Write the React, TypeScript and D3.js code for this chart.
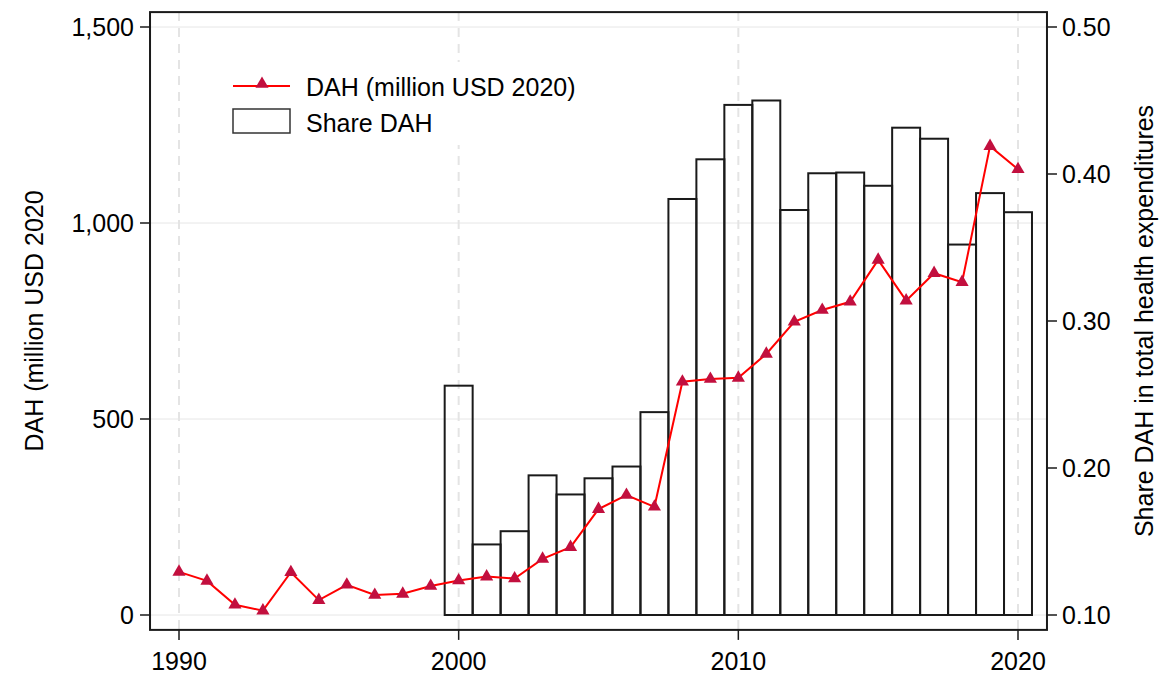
import React from 'react';
import * as d3 from 'd3';

const years = d3.range(1990, 2021);
// DAH (million USD 2020), 1990-2020
const dah = [110, 87, 26, 11, 109, 38, 77, 51, 54, 74, 88, 98, 93, 143, 173, 270, 306, 276, 595, 602, 605, 666, 748, 778, 799, 906, 802, 872, 849, 1196, 1137];
// Share DAH in total health expenditures, 2000-2020
const shareYears = d3.range(2000, 2021);
const share = [0.256, 0.148, 0.157, 0.195, 0.182, 0.193, 0.201, 0.238, 0.383, 0.41, 0.447, 0.45, 0.3755, 0.4005, 0.401, 0.392, 0.4315, 0.424, 0.352, 0.387, 0.374];
const leftTicks = [0, 500, 1000, 1500];
const rightTicks = [0.1, 0.2, 0.3, 0.4, 0.5];
const xTicks = [1990, 2000, 2010, 2020];

const width = 1160;
const height = 676;
const font = '"Liberation Sans", Arial, sans-serif';

const App: React.FC = () => {
  const x = d3.scaleLinear().domain([1990, 2020]).range([179, 1018]);
  const yL = d3.scaleLinear().domain([0, 1500]).range([615, 27]);
  const yR = d3.scaleLinear().domain([0.1, 0.5]).range([615, 27]);

  // plot frame, a little wider than the data range
  const left = x(1990 - 1.036);
  const right = x(2020 + 1.036);
  const top = yL(1538);
  const bottom = yL(-38);

  const bw = x(1) - x(0);
  const line = d3
    .line<number>()
    .x((_, i) => x(years[i]))
    .y((d) => yL(d));
  const tri = d3.symbol().type(d3.symbolTriangle).size(75)();
  const fmt = d3.format(',');

  return (
    <div style={{ position: 'fixed', left: 0, top: 0, width, height, overflow: 'hidden', background: 'white' }}>
      <svg width={width} height={height} style={{ display: 'block' }} fontFamily={font}>
        <rect width={width} height={height} fill="white" />

        {/* grid */}
        {leftTicks.map((t) => (
          <line key={'h' + t} x1={left} x2={right} y1={yL(t)} y2={yL(t)} stroke="#e6e6e6" strokeWidth={1} />
        ))}
        {xTicks.map((t) => (
          <line key={'v' + t} x1={x(t)} x2={x(t)} y1={top} y2={bottom} stroke="#e4e4e4" strokeWidth={2} strokeDasharray="9,7" />
        ))}

        {/* legend background */}
        <rect x={215} y={62} width={385} height={83} fill="white" />

        {/* bars */}
        {share.map((s, i) => (
          <rect
            key={'b' + i}
            x={x(shareYears[i]) - bw / 2}
            y={yR(s)}
            width={bw}
            height={yR(0.1) - yR(s)}
            fill="none"
            stroke="#1a1a1a"
            strokeWidth={2}
          />
        ))}

        {/* line */}
        <path d={line(dah) ?? ''} fill="none" stroke="#ff0000" strokeWidth={2} />
        {dah.map((d, i) => (
          <path key={'m' + i} d={tri ?? ''} transform={`translate(${x(years[i])},${yL(d)})`} fill="#c20f3e" />
        ))}

        {/* frame */}
        <rect x={left} y={top} width={right - left} height={bottom - top} fill="none" stroke="#1a1a1a" strokeWidth={2} />

        {/* left axis */}
        {leftTicks.map((t) => (
          <g key={'l' + t}>
            <line x1={left - 10} x2={left} y1={yL(t)} y2={yL(t)} stroke="#1a1a1a" strokeWidth={1.5} />
            <text x={left - 16} y={yL(t)} dy="0.35em" textAnchor="end" fontSize={25}>
              {fmt(t)}
            </text>
          </g>
        ))}
        {/* right axis */}
        {rightTicks.map((t) => (
          <g key={'r' + t}>
            <line x1={right} x2={right + 10} y1={yR(t)} y2={yR(t)} stroke="#1a1a1a" strokeWidth={1.5} />
            <text x={right + 15} y={yR(t)} dy="0.35em" textAnchor="start" fontSize={25}>
              {t.toFixed(2)}
            </text>
          </g>
        ))}
        {/* bottom axis */}
        {xTicks.map((t) => (
          <g key={'x' + t}>
            <line x1={x(t)} x2={x(t)} y1={bottom} y2={bottom + 10} stroke="#1a1a1a" strokeWidth={1.5} />
            <text x={x(t)} y={670} textAnchor="middle" fontSize={25}>
              {t}
            </text>
          </g>
        ))}

        {/* axis titles */}
        <text transform={`translate(43,${(top + bottom) / 2}) rotate(-90)`} textAnchor="middle" fontSize={25}>
          DAH (million USD 2020
        </text>
        <text transform={`translate(1153,${(top + bottom) / 2}) rotate(-90)`} textAnchor="middle" fontSize={25}>
          Share DAH in total health expenditures
        </text>

        {/* legend */}
        <line x1={233} x2={290} y1={86} y2={86} stroke="#ff0000" strokeWidth={2} />
        <path d={tri ?? ''} transform="translate(262,84)" fill="#c20f3e" />
        <text x={306} y={87.5} dy="0.35em" fontSize={25}>
          DAH (million USD 2020)
        </text>
        <rect x={233} y={109} width={57} height={24} fill="white" stroke="#333" strokeWidth={1.5} />
        <text x={306} y={123} dy="0.35em" fontSize={25}>
          Share DAH
        </text>
      </svg>
    </div>
  );
};

export default App;
